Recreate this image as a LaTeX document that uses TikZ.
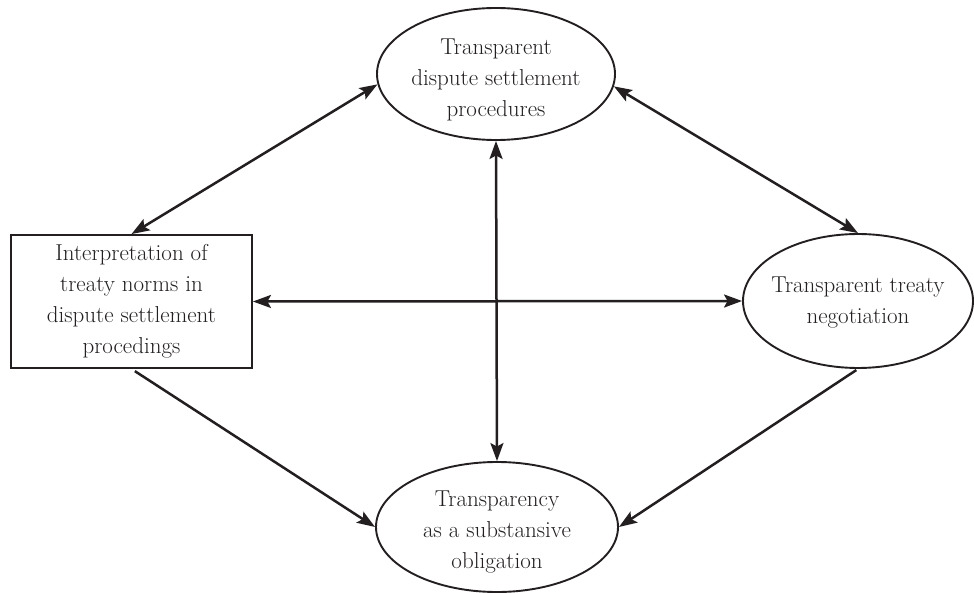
\documentclass[tikz,border=0pt]{standalone}
\usepackage{fontspec}
\usetikzlibrary{shapes.geometric,arrows.meta}
\definecolor{ink}{HTML}{231F20}
\begin{document}
\begin{tikzpicture}[x=1pt,y=-1pt,
  every node/.style={font=\fontsize{23}{31}\selectfont, text=ink},
  oval/.style={draw=ink, line width=1.9pt, ellipse, inner sep=0pt},
  box/.style={draw=ink, line width=1.9pt, rectangle, inner sep=0pt, align=center},
  txt/.style={align=center, inner sep=0pt},
  link/.style={draw=ink, line width=2.5pt, {Stealth[length=18pt,width=13pt,inset=3.5pt]}-{Stealth[length=18pt,width=13pt,inset=3.5pt]}},
  onelink/.style={draw=ink, line width=2.5pt, -{Stealth[length=18pt,width=13pt,inset=3.5pt]}}
]
\useasboundingbox (0,0) rectangle (974,593);
\node[oval, minimum width=238pt, minimum height=132pt] (T) at (496,74) {};
\node[txt] (Tt) at (496,80) {Transparent\\dispute settlement\\procedures};
\node[box, minimum width=241pt, minimum height=133pt] (R) at (131.5,301.5) {Interpretation of\\treaty norms in\\dispute settlement\\procedings};
\node[oval, minimum width=230pt, minimum height=134pt] (E) at (858,301) {};
\node[txt] (Et) at (858,303) {Transparent treaty\\negotiation};
\node[oval, minimum width=242pt, minimum height=130pt] (B) at (497,527) {};
\node[txt] (Bt) at (497,532) {Transparency\\as a substansive\\obligation};
\draw[link] (T.185) -- (R.north);
\draw[link] (T.354) -- (E.north);
\draw[link] (R.east) -- (E.west);
\draw[link] (T.south) -- (B.north);
\draw[onelink, shorten <=4pt] (R.south) -- (B.west);
\draw[onelink, shorten <=2pt] (E.south) -- (B.east);
\end{tikzpicture}
\end{document}
